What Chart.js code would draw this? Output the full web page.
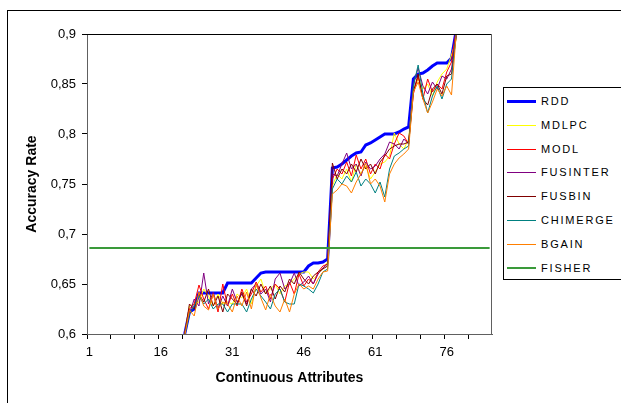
<!DOCTYPE html>
<html>
<head>
<meta charset="utf-8">
<script src="https://cdn.jsdelivr.net/npm/chart.js@4.4.0/dist/chart.umd.min.js"></script>
<style>
  html, body { margin: 0; padding: 0; background: #fff; overflow: hidden; }
  #wrap { position: relative; width: 621px; height: 403px; overflow: hidden; }
  #frame { position: absolute; left: 7px; top: 10px; width: 700px; height: 500px; border: 1px solid #000; }
  #chart { position: absolute; left: 0; top: 0; }
  #legend { position: absolute; left: 503px; top: 87px; width: 200px; height: 191px; border: 1px solid #000; background: #fff;
            font: 11px "Liberation Sans", Arial, sans-serif; letter-spacing: 1.8px; color: #000; }
  .item { position: absolute; left: 37px; height: 14px; line-height: 14px; white-space: nowrap; }
  .swatch { position: absolute; left: 3px; width: 29px; }
</style>
</head>
<body>
<div id="wrap">
  <div id="frame"></div>
  <canvas id="chart" width="621" height="403"></canvas>
  <div id="legend"></div>
</div>
<script>
// ? attribute index on the x axis (1..85)
const categories = [
  '1','2','3','4','5','6','7','8','9','10','11','12','13','14','15','16','17',
  '18','19','20','21','22','23','24','25','26','27','28','29','30','31','32','33','34',
  '35','36','37','38','39','40','41','42','43','44','45','46','47','48','49','50','51',
  '52','53','54','55','56','57','58','59','60','61','62','63','64','65','66','67','68',
  '69','70','71','72','73','74','75','76','77','78','79','80','81','82','83','84','85'
];
const xTickLabels = ['1', '16', '31', '46', '61', '76'];
const yTickLabels = ['0,6', '0,65', '0,7', '0,75', '0,8', '0,85', '0,9'];

// ! the curves start at attribute 21 (lower values are off the chart)
const firstCat = 21;

const rdd = [
  0.600, 0.622, 0.625, 0.641, 0.641, 0.641, 0.641, 0.641, 0.641, 0.651,
  0.651, 0.651, 0.651, 0.651, 0.651, 0.656, 0.661, 0.662, 0.662, 0.662,
  0.662, 0.662, 0.662, 0.662, 0.662, 0.662, 0.668, 0.671, 0.671, 0.672,
  0.675, 0.766, 0.767, 0.770, 0.774, 0.778, 0.781, 0.782, 0.789, 0.791,
  0.794, 0.797, 0.800, 0.800, 0.800, 0.802, 0.805, 0.807, 0.855, 0.860,
  0.861, 0.864, 0.868, 0.871, 0.871, 0.871, 0.876, 0.904
];
const mdlpc = [
  0.600, 0.628, 0.630, 0.632, 0.645, 0.638, 0.628, 0.640, 0.630, 0.632,
  0.630, 0.640, 0.636, 0.645, 0.630, 0.648, 0.655, 0.640, 0.645, 0.650,
  0.640, 0.648, 0.650, 0.655, 0.660, 0.662, 0.662, 0.655, 0.660, 0.665,
  0.672, 0.748, 0.760, 0.755, 0.765, 0.752, 0.770, 0.760, 0.768, 0.755,
  0.762, 0.770, 0.772, 0.778, 0.801, 0.790, 0.785, 0.795, 0.845, 0.855,
  0.845, 0.850, 0.838, 0.852, 0.860, 0.865, 0.879, 0.895
];
const modl = [
  0.600, 0.625, 0.630, 0.649, 0.635, 0.625, 0.640, 0.622, 0.650, 0.628,
  0.640, 0.628, 0.645, 0.632, 0.640, 0.652, 0.642, 0.648, 0.635, 0.650,
  0.645, 0.632, 0.652, 0.640, 0.660, 0.648, 0.655, 0.650, 0.662, 0.668,
  0.670, 0.755, 0.765, 0.760, 0.772, 0.758, 0.779, 0.765, 0.775, 0.760,
  0.770, 0.765, 0.780, 0.775, 0.790, 0.801, 0.798, 0.790, 0.840, 0.858,
  0.835, 0.855, 0.842, 0.850, 0.845, 0.862, 0.872, 0.905
];
const fusinter = [
  0.600, 0.620, 0.635, 0.628, 0.661, 0.630, 0.642, 0.625, 0.638, 0.628,
  0.645, 0.632, 0.640, 0.630, 0.645, 0.650, 0.640, 0.645, 0.632, 0.655,
  0.661, 0.645, 0.650, 0.661, 0.648, 0.652, 0.658, 0.650, 0.660, 0.666,
  0.670, 0.760, 0.758, 0.770, 0.781, 0.765, 0.770, 0.758, 0.772, 0.765,
  0.768, 0.775, 0.780, 0.792, 0.790, 0.785, 0.795, 0.790, 0.850, 0.866,
  0.848, 0.840, 0.852, 0.845, 0.858, 0.855, 0.865, 0.900
];
const fusbin = [
  0.600, 0.630, 0.625, 0.640, 0.632, 0.645, 0.628, 0.638, 0.622, 0.640,
  0.635, 0.630, 0.642, 0.628, 0.645, 0.638, 0.650, 0.640, 0.648, 0.635,
  0.648, 0.642, 0.655, 0.650, 0.662, 0.655, 0.650, 0.658, 0.662, 0.665,
  0.668, 0.771, 0.755, 0.765, 0.760, 0.770, 0.762, 0.775, 0.765, 0.770,
  0.760, 0.772, 0.778, 0.785, 0.788, 0.790, 0.790, 0.792, 0.842, 0.860,
  0.835, 0.829, 0.845, 0.850, 0.840, 0.858, 0.860, 0.898
];
const chimerge = [
  0.598, 0.620, 0.628, 0.638, 0.630, 0.635, 0.625, 0.630, 0.630, 0.622,
  0.630, 0.630, 0.630, 0.622, 0.635, 0.645, 0.638, 0.632, 0.625, 0.640,
  0.645, 0.632, 0.630, 0.630, 0.650, 0.648, 0.645, 0.641, 0.650, 0.662,
  0.665, 0.745, 0.755, 0.750, 0.758, 0.752, 0.762, 0.748, 0.755, 0.750,
  0.741, 0.752, 0.737, 0.765, 0.778, 0.781, 0.785, 0.788, 0.848, 0.869,
  0.840, 0.821, 0.838, 0.848, 0.835, 0.850, 0.855, 0.902
];
const bgain = [
  0.598, 0.624, 0.618, 0.642, 0.628, 0.624, 0.640, 0.625, 0.632, 0.630,
  0.622, 0.638, 0.628, 0.642, 0.625, 0.650, 0.636, 0.624, 0.640, 0.628,
  0.622, 0.635, 0.622, 0.640, 0.650, 0.645, 0.648, 0.645, 0.655, 0.662,
  0.663, 0.740, 0.744, 0.750, 0.748, 0.741, 0.752, 0.760, 0.771, 0.750,
  0.755, 0.748, 0.732, 0.760, 0.770, 0.776, 0.780, 0.785, 0.842, 0.852,
  0.835, 0.821, 0.832, 0.845, 0.838, 0.848, 0.839, 0.901
];
// FISHER is flat over every attribute
const fisher = [
  0.686, 0.686, 0.686, 0.686, 0.686, 0.686, 0.686, 0.686, 0.686, 0.686, 0.686, 0.686, 0.686, 0.686, 0.686, 0.686, 0.686,
  0.686, 0.686, 0.686, 0.686, 0.686, 0.686, 0.686, 0.686, 0.686, 0.686, 0.686, 0.686, 0.686, 0.686, 0.686, 0.686, 0.686,
  0.686, 0.686, 0.686, 0.686, 0.686, 0.686, 0.686, 0.686, 0.686, 0.686, 0.686, 0.686, 0.686, 0.686, 0.686, 0.686, 0.686,
  0.686, 0.686, 0.686, 0.686, 0.686, 0.686, 0.686, 0.686, 0.686, 0.686, 0.686, 0.686, 0.686, 0.686, 0.686, 0.686, 0.686,
  0.686, 0.686, 0.686, 0.686, 0.686, 0.686, 0.686, 0.686, 0.686, 0.686, 0.686, 0.686, 0.686, 0.686, 0.686, 0.686, 0.686
];

const seriesNames = ['RDD', 'MDLPC', 'MODL', 'FUSINTER', 'FUSBIN', 'CHIMERGE', 'BGAIN', 'FISHER'];
const seriesData = [rdd, mdlpc, modl, fusinter, fusbin, chimerge, bgain, fisher];
const seriesColors = ['#0000ff', '#ffff00', '#ff0000', '#800080', '#800000', '#008080', '#ff7f00', '#3a9a3a'];
const seriesWidths = [3, 1, 1, 1, 1, 1, 1, 2];

const pad = (vals) => vals.length === categories.length ? vals : Array(firstCat - 1).fill(null).concat(vals);

// ! plot area frame (top + right edges)
const plotFrame = {
  id: 'plotFrame',
  afterDraw(chart) {
    const { ctx, chartArea: a } = chart;
    ctx.save();
    ctx.lineWidth = 1;
    ctx.strokeStyle = '#000';
    ctx.beginPath();
    ctx.moveTo(a.left, a.top + 0.5);
    ctx.lineTo(a.right, a.top + 0.5);
    ctx.stroke();
    ctx.strokeStyle = '#606060';
    ctx.beginPath();
    ctx.moveTo(a.right - 0.5, a.top);
    ctx.lineTo(a.right - 0.5, a.bottom);
    ctx.stroke();
    ctx.restore();
  }
};

Chart.defaults.font.family = '"Liberation Sans", Arial, sans-serif';
Chart.defaults.color = '#000';

const ctx = document.getElementById('chart').getContext('2d');
const accChart = new Chart(ctx, {
  type: 'line',
  data: {
    labels: categories,
    datasets: seriesNames.map((name, i) => ({
      label: name,
      data: pad(seriesData[i]),
      borderColor: seriesColors[i],
      backgroundColor: seriesColors[i],
      borderWidth: seriesWidths[i],
      pointRadius: 0,
      tension: 0,
      fill: false,
      order: seriesNames.length - i,
    })),
  },
  options: {
    responsive: false,
    animation: false,
    devicePixelRatio: 1,
    layout: { padding: { left: 20, top: 34, right: 129, bottom: 0 } },
    plugins: { legend: { display: false }, tooltip: { enabled: false } },
    scales: {
      x: {
        offset: true,
        grid: {
          offset: true,
          drawOnChartArea: false,
          drawTicks: true,
          tickLength: 5,
          color: (c) => (c.index % 5 === 0 ? '#000' : 'rgba(0,0,0,0)'),
        },
        border: { color: '#606060', width: 1 },
        ticks: {
          autoSkip: false,
          maxRotation: 0,
          padding: 6,
          font: { size: 13 },
          callback: (v, i) => (xTickLabels.includes(categories[i]) ? categories[i] : ''),
        },
        title: {
          display: true,
          text: 'Continuous Attributes',
          font: { size: 14, weight: 'bold' },
          padding: { top: 0, bottom: 16 },
        },
        afterFit: (s) => { s.height = 69; },
      },
      y: {
        min: 0.6,
        max: 0.9,
        ticks: {
          stepSize: 0.05,
          padding: 6,
          font: { size: 13 },
          callback: (v, i) => yTickLabels[i],
        },
        grid: { drawOnChartArea: false, drawTicks: true, tickLength: 5, color: '#000' },
        border: { color: '#606060', width: 1 },
        title: {
          display: true,
          text: 'Accuracy Rate',
          font: { size: 14, weight: 'bold' },
          padding: { top: 4, bottom: 0 },
        },
        afterFit: (s) => { s.width = 67; },
      },
    },
  },
  plugins: [plotFrame],
});

// ? legend box built from the chart's datasets
const legendEl = document.getElementById('legend');
accChart.data.datasets.forEach((ds, i) => {
  const mid = Math.round(13 + i * 23.8);
  const lw = ds.borderWidth >= 3 ? 3 : (ds.borderWidth >= 2 ? 2 : 1);
  const sw = document.createElement('div');
  sw.className = 'swatch';
  sw.style.top = (mid - Math.floor(lw / 2)) + 'px';
  sw.style.height = lw + 'px';
  sw.style.background = ds.borderColor;
  const row = document.createElement('div');
  row.className = 'item';
  row.style.top = (mid - 7) + 'px';
  row.textContent = ds.label;
  legendEl.appendChild(sw);
  legendEl.appendChild(row);
});
</script>
</body>
</html>
